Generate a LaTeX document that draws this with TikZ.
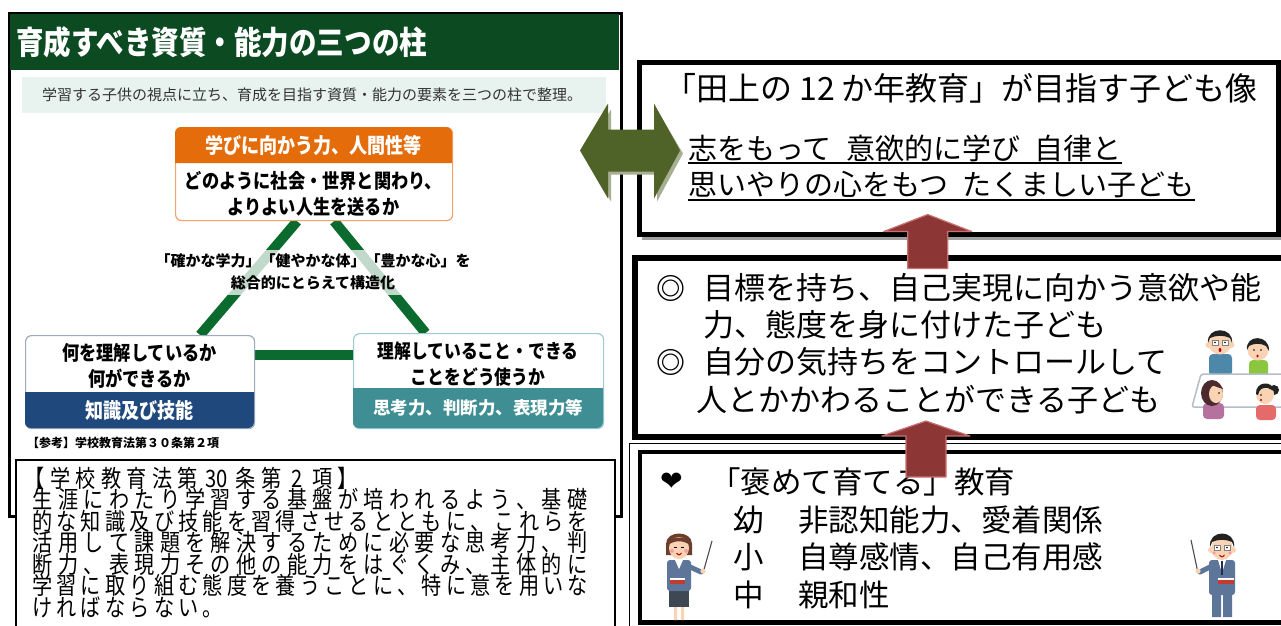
\documentclass[tikz,border=0pt]{standalone}
\usepackage{fontspec}
\usetikzlibrary{calc,backgrounds}
\newfontfamily\jp{Noto Sans CJK JP}
\newfontfamily\jpc[FakeStretch=0.86]{Noto Sans CJK JP}
\newfontfamily\jpn[FakeStretch=0.84]{Noto Sans CJK JP}
\newfontfamily\dvs{DejaVu Sans}
\newcommand\setfs[1]{\fontsize{#1}{#1}\selectfont}
% set a line of CJK text on a fixed character pitch
\newlength\pitchlen
\newcommand\pitched[2]{\setlength\pitchlen{#1}\pitchedi#2\relax}
\def\pitchedi#1{\ifx\relax#1\else\makebox[\pitchlen][c]{#1}\expandafter\pitchedi\fi}

\definecolor{hdrgreen}{HTML}{0C4A22}
\definecolor{bandmint}{HTML}{E8F3F0}
\definecolor{subgray}{HTML}{333333}
\definecolor{pillarorange}{HTML}{E46C0A}
\definecolor{orangeline}{HTML}{F2A46C}
\definecolor{trigreen}{HTML}{0B6A2E}
\definecolor{knowblue}{HTML}{1F497D}
\definecolor{blueline}{HTML}{9DAAC0}
\definecolor{thinkteal}{HTML}{3E8E93}
\definecolor{tealline}{HTML}{9ECBD0}
\definecolor{olive}{HTML}{4F6228}
\definecolor{oliveshadow}{HTML}{A7AF92}
\definecolor{arrowred}{HTML}{8C3636}
\definecolor{arrowedge}{HTML}{C97272}
\definecolor{boxshadow}{HTML}{A0A0A0}
\definecolor{skin}{HTML}{FAD3B4}
\definecolor{hairdark}{HTML}{222222}
\definecolor{hairbrown}{HTML}{6E3E2C}
\definecolor{hairplum}{HTML}{4A2A2E}
\definecolor{suit}{HTML}{5D7598}
\definecolor{skirt}{HTML}{3E4853}
\definecolor{shirtblue}{HTML}{4D87AA}
\definecolor{shirtgreen}{HTML}{8CC63E}
\definecolor{shirtpurple}{HTML}{B5729E}
\definecolor{shirtred}{HTML}{E56B6B}
\definecolor{bookred}{HTML}{C23B32}
\definecolor{tableedge}{HTML}{B4BEC8}
\definecolor{cheek}{HTML}{F4A0A0}
\definecolor{tienavy}{HTML}{1E2C5A}

\begin{document}
\begin{tikzpicture}[x=1pt,y=-1pt,
  lbl/.style={inner sep=0pt,anchor=west},
  ctr/.style={inner sep=0pt,anchor=center},
  boxnode/.style={inner sep=0pt,anchor=north west},
  pillarhead/.style={ctr,text=white,font=\jpc\bfseries\setfs{21}},
  pillartext/.style={ctr,font=\jpc\bfseries\setfs{20}},
  lawline/.style={lbl,font=\jpn\setfs{24}},
  goaltext/.style={lbl,font=\jp\setfs{29}},
  traittext/.style={lbl,font=\jp\setfs{31}},
  praisetext/.style={lbl,font=\jp\setfs{30.5}},
  triline/.style={trigreen,line width=10pt},
  redarrow/.style={fill=arrowred,draw=arrowedge,line width=1.2pt,line join=round},
  stick/.style={draw=gray!60!black,line width=1.1pt}]
\begin{pgfonlayer}{background}
  \fill[white] (0,0) rectangle (1281,625);
\end{pgfonlayer}
\useasboundingbox (0,0) rectangle (1281,625);

% ---------- left panel ----------
\node[boxnode,draw,line width=3pt,minimum width=612pt,minimum height=503pt] (leftframe) at (8,12) {};
\fill[hdrgreen] (9.5,13.5) rectangle (618.5,70);
\node[lbl,text=white,font=\jpc\bfseries\setfs{32}] (title) at (16,42) {育成すべき資質・能力の三つの柱};
\fill[bandmint] (22,77) rectangle (606,113);
\node[ctr,text=subgray,font=\jp\setfs{15}] (subtitle) at (312,95) {学習する子供の視点に立ち、育成を目指す資質・能力の要素を三つの柱で整理。};

% three pillars
\node[boxnode,draw=orangeline,line width=1.2pt,rounded corners=6pt,fill=white,minimum width=277pt,minimum height=93pt] (topbox) at (175,127) {};
\fill[pillarorange] (175,163) [rounded corners=6pt]-- (175,127) -- (452,127) [sharp corners]-- (452,163) -- cycle;
\node[pillarhead] (tophead) at (313.5,145) {学びに向かう力、人間性等};
\node[pillartext] (top1) at (313.5,181) {どのように社会・世界と関わり、};
\node[pillartext] (top2) at (313.5,207) {よりよい人生を送るか};

\node[boxnode,draw=blueline,line width=1.2pt,rounded corners=6pt,fill=white,minimum width=229pt,minimum height=93pt] (lbox) at (25,335) {};
\fill[knowblue] (25,392) [rounded corners=6pt]-- (25,428) -- (254,428) [sharp corners]-- (254,392) -- cycle;
\node[pillartext] (l1) at (139.5,353) {何を理解しているか};
\node[pillartext] (l2) at (139.5,379) {何ができるか};
\node[pillarhead] (lhead) at (139.5,410) {知識及び技能};

\node[boxnode,draw=tealline,line width=1.2pt,rounded corners=6pt,fill=white,minimum width=250pt,minimum height=95pt] (rbox) at (353,333) {};
\fill[thinkteal] (353,388) [rounded corners=6pt]-- (353,428) -- (603,428) [sharp corners]-- (603,388) -- cycle;
\node[pillartext,font=\jpc\bfseries\setfs{19.5}] (r1) at (478,351) {理解していること・できる};
\node[pillartext,font=\jpc\bfseries\setfs{19.5}] (r2) at (478,377) {ことをどう使うか};
\node[pillarhead,font=\jp\bfseries\setfs{17.5}] (rhead) at (478,408) {思考力、判断力、表現力等};

\begin{pgfonlayer}{background}
  \draw[triline] ($(topbox.south)+(-17,0)$) -- ($(lbox.north)+(60,0)$);
  \draw[triline] ($(topbox.south)+(20,0)$) -- ($(rbox.north)+(-53,0)$);
  \draw[triline] ($(lbox.east)+(0,-27)$) -- ($(rbox.west)+(0,-26)$);
\end{pgfonlayer}
\fill[white,fill opacity=0.75] (150,250) rectangle (480,295);
\node[ctr,font=\jp\bfseries\setfs{15}] (mid1) at (313,261) {「確かな学力」「健やかな体」「豊かな心」を};
\node[ctr,font=\jp\bfseries\setfs{15}] (mid2) at (313,283) {総合的にとらえて構造化};
\node[lbl,font=\jp\bfseries\setfs{12}] (ref) at (27,443) {【参考】学校教育法第３０条第２項};

% statutory text
\node[boxnode,draw,line width=1.5pt,fill=white,minimum width=599pt,minimum height=180pt] (lawbox) at (15,459) {};
\node[lawline] (law0) at (22,478) {\pitched{25.5pt}{【学校教育法第}\hspace{5pt}30\hspace{5pt}\pitched{25.5pt}{条第2項】}};
\node[lawline] (law1) at (30,499.5) {\pitched{25.45pt}{生涯にわたり学習する基盤が培われるよう、基礎}};
\node[lawline] (law2) at (30,521) {\pitched{24.35pt}{的な知識及び技能を習得させるとともに、これらを}};
\node[lawline] (law3) at (30,542.5) {\pitched{25.45pt}{活用して課題を解決するために必要な思考力、判}};
\node[lawline] (law4) at (30,564) {\pitched{25.45pt}{断力、表現力その他の能力をはぐくみ、主体的に}};
\node[lawline] (law5) at (30,585.5) {\pitched{24.35pt}{学習に取り組む態度を養うことに、特に意を用いな}};
\node[lawline] (law6) at (30,607) {\pitched{24.35pt}{ければならない。}};

% ---------- right panel ----------
\fill[boxshadow] (642,65) rectangle (1283,240);
\node[boxnode,draw,line width=5pt,fill=white,minimum width=639.5pt,minimum height=172pt] (goalbox) at (636.5,59.5) {};
\node[ctr,font=\jp\setfs{32}] (goaltitle) at (961,88) {「田上の 12 か年教育」が目指す子ども像};
\node[goaltext] (goal1) at (688,148) {志をもって\hspace{0.5em}意欲的に学び\hspace{0.5em}自律と};
\node[goaltext] (goal2) at (688,185) {思いやりの心をもつ\hspace{0.5em}たくましい子ども};
\draw[line width=1.5pt] ([yshift=-1.5pt]goal1.south west) -- ([yshift=-1.5pt]goal1.south east);
\draw[line width=1.5pt] ([yshift=-1.5pt]goal2.south west) -- ([yshift=-1.5pt]goal2.south east);

\node[boxnode,draw,line width=6pt,fill=white,minimum width=658pt,minimum height=179pt] (traitbox) at (632,255) {};
\node[traittext,font=\jp\bfseries\setfs{29}] (bul1) at (656,288) {◎};
\node[traittext] (trait1) at (703,288) {目標を持ち、自己実現に向かう意欲や能};
\node[traittext] (trait2) at (703,325) {力、態度を身に付けた子ども};
\node[traittext,font=\jp\bfseries\setfs{29}] (bul2) at (656,362) {◎};
\node[traittext] (trait3) at (703,362) {自分の気持ちをコントロールして};
\node[traittext] (trait4) at (696,400) {人とかかわることができる子ども};

\node[boxnode,draw,line width=1.5pt,fill=white,minimum width=662pt,minimum height=200pt] (praiseouter) at (628.5,442.5) {};
\node[boxnode,draw,line width=4.5pt,minimum width=655pt,minimum height=170.5pt] (praisebox) at (637.5,449.5) {};
\node[lbl,font=\dvs\setfs{27}] (heart) at (660,482) {❤};
\node[praisetext] (praise0) at (710,482) {「褒めて育てる」教育};
\node[praisetext] (age1) at (733,520) {幼};
\node[praisetext] (aim1) at (798,520) {非認知能力、愛着関係};
\node[praisetext] (age2) at (733,557) {小};
\node[praisetext] (aim2) at (798,557) {自尊感情、自己有用感};
\node[praisetext] (age3) at (733,595) {中};
\node[praisetext] (aim3) at (798,595) {親和性};

% link arrows
\coordinate (linkmid) at ($(leftframe.east |- goalbox.center)+(7,2.5)$);
\begin{scope}[shift={(linkmid)}]
  \fill[oliveshadow] (-50+3,3) -- (-22+3,-44+3) -- (-22+3,-21+3) -- (24+3,-21+3) -- (24+3,-44+3) -- (50+3,3) -- (24+3,48+3) -- (24+3,21+3) -- (-22+3,21+3) -- (-22+3,48+3) -- cycle;
  \fill[olive] (-50,0) -- (-22,-47) -- (-22,-21) -- (24,-21) -- (24,-47) -- (50,0) -- (24,48) -- (24,21) -- (-22,21) -- (-22,48) -- cycle;
\end{scope}

\coordinate (riseA) at ($(goalbox.south)+(-31,-22)$);
\coordinate (riseB) at ($(traitbox.south)+(-38,-19)$);
\draw[redarrow] (riseA) -- ++(44,17) -- ++(-24,0) -- ++(0,37) -- ++(-40,0) -- ++(0,-37) -- ++(-24,0) -- cycle;
\draw[redarrow] (riseB) -- ++(44,15) -- ++(-24,0) -- ++(0,41) -- ++(-40,0) -- ++(0,-41) -- ++(-24,0) -- cycle;

% ---------- children around a table ----------
\begin{scope}[shift={(1220,343)}]
  \fill[shirtblue,rounded corners=4pt] (-11,11) rectangle (12,33);
  \fill[skin] (-11.5,2) circle (3) (11.5,2) circle (3);
  \fill[skin] (0,0) circle (11.5);
  \fill[hairdark] (-12,0) .. controls (-14,-17) and (14,-17) .. (12,0) -- (10,-5) .. controls (4,-8) and (-4,-8) .. (-10,-5) -- cycle;
  \draw[gray,line width=0.8pt,fill=white] (-8,-3) rectangle (-2,2) (2,-3) rectangle (8,2);
  \fill[black] (-5,-0.5) circle (0.9) (5,-0.5) circle (0.9);
  \fill[red!70!black] (0,7) ellipse (1.4 and 2);
\end{scope}
\begin{scope}[shift={(1258,350)}]
  \fill[shirtgreen,rounded corners=4pt] (-9,10) rectangle (10,27);
  \fill[skin] (0,0) circle (10.5);
  \fill[hairdark] (-11,0) .. controls (-13,-16) and (12,-16) .. (11,1) -- (8,-4) .. controls (3,-7) and (-4,-7) .. (-9,-4) -- cycle;
  \fill[black] (-4,0) circle (0.9) (3,0) circle (0.9);
  \fill[red!70!black] (-0.5,6) ellipse (1.2 and 1.5);
\end{scope}
\draw[tableedge,fill=white,line width=1.5pt,rounded corners=2pt] (1201,374) -- (1283,374) -- (1283,407) -- (1192,407) -- cycle;
\begin{scope}[shift={(1213,392)}]
  \fill[shirtpurple,rounded corners=4pt] (-10,11) rectangle (11,27);
  \fill[hairplum] (-1,1) ellipse (11 and 13);
  \fill[skin] (3,2) ellipse (7 and 9);
  \fill[hairplum] (-6,-9) .. controls (0,-12) and (8,-9) .. (10,-3) -- (4,-5) -- cycle;
  \fill[black] (6,1) circle (0.9);
\end{scope}
\begin{scope}[shift={(1265,393)}]
  \fill[shirtred,rounded corners=4pt] (-9,12) rectangle (11,27);
  \fill[hairdark] (9,-3) circle (5);
  \fill[red!80!black] (6,-5) circle (2);
  \fill[skin] (0,1) ellipse (9 and 10);
  \fill[hairdark] (-9,1) .. controls (-10,-12) and (8,-13) .. (9,-2) -- (3,-5) .. controls (-2,-6) and (-6,-4) .. (-7,2) -- cycle;
  \fill[black] (-4,2) circle (0.9);
  \fill[red!70!black] (-4,7) ellipse (1 and 1.3);
\end{scope}

% ---------- teachers ----------
\begin{scope}[shift={(679,547)}]
  \fill[skin] (-5,58) rectangle (-2,73) (2,58) rectangle (5,73);
  \fill[skirt] (-10,40) rectangle (10,60);
  \fill[suit,rounded corners=3pt] (-12,13) rectangle (12,44);
  \fill[white] (-4,13) -- (4,13) -- (0,22) -- cycle;
  \draw[suit,line width=5pt,line cap=round] (9,19) -- (22,25);
  \draw[stick] (24,26) -- (33,-6);
  \fill[skin] (24,24) circle (2.6);
  \fill[bookred] (-9,31) rectangle (6,37);
  \fill[white] (-9,31) rectangle (6,32.5);
  \fill[hairbrown] (-13,8) -- (-13,-3) .. controls (-13,-17) and (13,-17) .. (13,-3) -- (13,8) -- cycle;
  \fill[skin] (0,1) ellipse (10 and 11);
  \fill[hairbrown] (-11,-2) .. controls (-9,-12) and (9,-12) .. (11,-2) .. controls (4,-7) and (-4,-7) .. (-11,-2) -- cycle;
  \fill[cheek] (-7,4) circle (2) (7,4) circle (2);
  \draw[black,line width=0.8pt] (-5,0) -- (-2,0) (2,0) -- (5,0);
  \draw[red!70!black,line width=1pt] (-2.5,6) .. controls (0,8.5) .. (2.5,6);
\end{scope}
\begin{scope}[shift={(1222,547)}]
  \fill[suit] (-10,40) rectangle (-1,70) (1,40) rectangle (10,70);
  \fill[suit,rounded corners=3pt] (-13,13) rectangle (13,48);
  \fill[white] (-4,13) -- (4,13) -- (0,26) -- cycle;
  \fill[tienavy] (-1.2,14) rectangle (1.2,28);
  \draw[suit,line width=5pt,line cap=round] (-10,19) -- (-22,25);
  \draw[stick] (-24,26) -- (-31,-7);
  \fill[skin] (-24,24) circle (2.6);
  \fill[bookred] (-4,31) rectangle (12,37);
  \fill[white] (-4,31) rectangle (12,32.5);
  \fill[skin] (-11,3) circle (3) (11,3) circle (3);
  \fill[skin] (0,1) ellipse (10.5 and 12);
  \fill[hairdark] (-12,0) .. controls (-14,-18) and (14,-18) .. (12,0) -- (10,-5) .. controls (3,-8) and (-3,-8) .. (-10,-5) -- cycle;
  \draw[gray,line width=0.8pt,fill=white] (-8,-2) rectangle (-2,3) (2,-2) rectangle (8,3);
  \fill[black] (-5,0.5) circle (0.8) (5,0.5) circle (0.8);
  \fill[cheek] (-8,6) circle (1.8) (8,6) circle (1.8);
  \draw[red!70!black,line width=1pt] (-2.5,8) .. controls (0,10.5) .. (2.5,8);
\end{scope}
\end{tikzpicture}
\end{document}
